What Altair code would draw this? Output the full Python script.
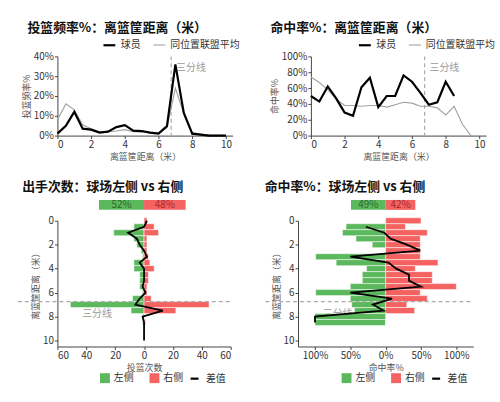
import altair as alt
import pandas as pd

FONT = "Noto Sans CJK SC"
GREEN = "#5cb85c"
RED = "#f46262"
GREEN_TEXT = "#2d6a2d"
RED_TEXT = "#a52a2a"
DASH_GREY = "#aaaaaa"
NOTE_GREY = "#999999"
THREE_PT = 6.75

SERIES = ["球员", "同位置联盟平均"]
SIDES = ["左侧", "右侧"]

# ---- shot frequency (%) by distance from the rim (m) ----
freq_dist = [0, 0.5, 1, 1.5, 2, 2.5, 3, 3.5, 4, 4.5, 5, 5.5, 6, 6.5, 7, 7.5, 8, 8.5, 9, 9.5, 10]
player_freq = [1, 5, 12, 3.5, 3, 1.5, 2, 4.3, 5.3, 2.5, 2.3, 1.5, 1, 4.8, 36, 11.5, 1, 0.5, 0, 0, 0]
league_freq = [8, 16, 13, 5.5, 3.5, 2, 2, 2.3, 3, 2, 1.8, 1.5, 1.2, 4, 24, 11, 1.5, 0.7, 0.3, 0.2, 0.1]

# ---- field goal % by distance ----
fg_dist_player = [0, 0.5, 1, 1.5, 2, 2.5, 3, 3.5, 4, 4.5, 5, 5.5, 6, 6.5, 7, 7.5, 8, 8.5]
player_fg = [50, 43, 62, 47, 29, 25, 61, 73, 36, 50, 50, 76, 68, 54, 39, 42, 68, 50]
fg_dist_league = [0, 0.5, 1, 1.5, 2, 2.5, 3, 3.5, 4, 4.5, 5, 5.5, 6, 6.5, 7, 7.5, 8, 8.5, 9, 9.5]
league_fg = [74, 67, 58, 46, 38, 38, 37, 38, 38, 36, 39, 42, 41, 37, 37, 35, 26, 37, 14, 0]

# ---- attempts, left vs right side of the court ----
count_dist = [0, 0.5, 1, 1.5, 2, 2.5, 3, 3.5, 4, 4.5, 5, 5.5, 6, 6.5, 7, 7.5, 8, 8.5, 9, 9.5, 10]
left_shots = [0, 7, 21, 7, 5, 2, 1, 7, 7, 3, 3, 3, 1, 8, 51, 9, 1, 1, 0, 0, 0]
right_shots = [2, 7, 10, 2, 2, 2, 3, 4, 7, 3, 3, 2, 2, 5, 45, 22, 0, 1, 0, 0, 0]
shot_share = [52, 48]

# ---- FG %, left vs right side ----
rate_dist = [0, 0.5, 1, 1.5, 2, 2.5, 3, 3.5, 4, 4.5, 5, 5.5, 6, 6.5, 7, 7.5, 8, 8.5]
left_rate = [None, 56, 61, 42, 19, 0, 99, 70, 27, 33, 33, 50, 99, 50, 48, 44, 100, 100]
right_rate = [50, 28, 59, 49, 49, 49, 49, 74, 42, 66, 66, 100, 49, 59, 30, 41, None, 0]
rate_share = [49, 42]


def by_distance_panel(d_player, v_player, d_league, v_league, ymax, ystep,
                      ytitle, title, legend_x, title_dx):
    df = pd.DataFrame({
        "d": d_player + d_league,
        "v": v_player + v_league,
        "series": [SERIES[0]] * len(d_player) + [SERIES[1]] * len(d_league),
    })
    x = alt.X("d:Q", title="离篮筐距离（米）",
              scale=alt.Scale(domain=[0, 10.4], nice=False),
              axis=alt.Axis(values=[0, 2, 4, 6, 8, 10]))
    y = alt.Y("v:Q", title=ytitle,
              scale=alt.Scale(domain=[0, ymax], nice=False),
              axis=alt.Axis(values=list(range(0, ymax + 1, ystep)),
                            labelExpr="datum.value + '%'"))
    legend = alt.Legend(orient="none", legendX=legend_x, legendY=-19,
                        direction="horizontal", title=None,
                        symbolType="stroke", symbolSize=144,
                        columnPadding=10, labelOffset=4)
    color = alt.Color("series:N", legend=legend,
                      scale=alt.Scale(domain=SERIES, range=["#000000", "#a0a0a0"]))
    stroke_w = alt.StrokeWidth("series:N", legend=legend,
                               scale=alt.Scale(domain=SERIES, range=[2.2, 1.1]))
    three = pd.DataFrame({"d": [THREE_PT]})
    rule = alt.Chart(three).mark_rule(
        strokeDash=[4, 3], color=DASH_GREY, strokeWidth=1.2
    ).encode(x=x)
    note = alt.Chart(three).mark_text(
        text="三分线", align="left", baseline="middle", dx=5,
        fontSize=10, color=NOTE_GREY
    ).encode(x=x, y=alt.value(12))
    league = alt.Chart(df).transform_filter(
        alt.datum.series == SERIES[1]
    ).mark_line().encode(x=x, y=y, color=color, strokeWidth=stroke_w)
    player = alt.Chart(df).transform_filter(
        alt.datum.series == SERIES[0]
    ).mark_line().encode(x=x, y=y, color=color, strokeWidth=stroke_w)
    return alt.layer(rule, note, league, player).properties(
        width=177, height=80, title=alt.Title(title, offset=3, dx=title_dx))


def side_panel(dist, left, right, diff, x_dom, x_ticks, label_expr, x_title,
               share, share_dom, title, width, rule_start, legend_x, title_dx):
    rows = []
    for d, l, r in zip(dist, left, right):
        if l is not None:
            rows.append({"d": d, "side": SIDES[0], "val": -l})
        if r is not None:
            rows.append({"d": d, "side": SIDES[1], "val": r})
    bars_df = pd.DataFrame(rows)
    diff_df = pd.DataFrame({"d": [p[0] for p in diff], "val": [p[1] for p in diff],
                            "kind": ["差值"] * len(diff)})
    share_df = pd.DataFrame({"side": SIDES, "pct": share})

    x = alt.X("val:Q", title=x_title,
              scale=alt.Scale(domain=x_dom, nice=False),
              axis=alt.Axis(values=x_ticks, labelExpr=label_expr, orient="bottom"))
    y_scale = alt.Scale(domain=[0, 10.5], reverse=True, nice=False)
    y_axis = alt.Axis(values=[0, 2, 4, 6, 8, 10])
    y_title = "离篮筐距离（米）"
    fill_legend = alt.Legend(orient="none", legendX=legend_x, legendY=154,
                             direction="horizontal", title=None,
                             symbolType="square", symbolSize=100,
                             symbolStrokeWidth=0, columnPadding=16, labelOffset=4)
    fill = alt.Fill("side:N", legend=fill_legend,
                    scale=alt.Scale(domain=SIDES, range=[GREEN, RED]))

    three = pd.DataFrame({"d": [THREE_PT]})
    note = alt.Chart(three).mark_text(
        text="三分线", align="left", baseline="middle", dy=13,
        fontSize=10, color=NOTE_GREY
    ).encode(x=alt.value(25),
             y=alt.Y("d:Q", title=y_title, scale=y_scale, axis=y_axis))
    bars = alt.Chart(bars_df).transform_calculate(
        top="datum.d - 0.25", bottom="datum.d + 0.25"
    ).mark_bar(stroke="white", strokeWidth=0.5).encode(
        x=x, x2=alt.datum(0),
        y=alt.Y("top:Q", title=y_title, scale=y_scale, axis=y_axis),
        y2="bottom:Q",
        fill=fill,
    )
    rule = alt.Chart(three).mark_rule(
        strokeDash=[4, 3], color=DASH_GREY, strokeWidth=1.2
    ).encode(x=alt.value(rule_start), x2=alt.value(width),
             y=alt.Y("d:Q", title=y_title, scale=y_scale, axis=y_axis))
    line = alt.Chart(diff_df).mark_line(strokeWidth=1.8).encode(
        x=x,
        y=alt.Y("d:Q", title=y_title, scale=y_scale, axis=y_axis),
        order="d:Q",
        stroke=alt.Stroke("kind:N",
                          scale=alt.Scale(domain=["差值"], range=["#000000"]),
                          legend=alt.Legend(orient="none", legendX=legend_x + 90,
                                            legendY=154, title=None,
                                            symbolType="stroke", symbolSize=64,
                                            symbolStrokeWidth=2.2, labelOffset=6)),
    )
    main = alt.layer(note, bars, rule, line)

    share_scale = alt.Scale(domain=share_dom, nice=False)
    share_base = alt.Chart(share_df).transform_calculate(
        sval=f"datum.side == '{SIDES[0]}' ? -datum.pct : datum.pct",
        mid=f"(datum.side == '{SIDES[0]}' ? -datum.pct : datum.pct) / 2",
        label="datum.pct + '%'",
    )
    share_bar = share_base.mark_bar().encode(
        x=alt.X("sval:Q", scale=share_scale, axis=None), x2=alt.datum(0),
        y=alt.value(-21), y2=alt.value(-11), fill=fill)
    share_text = share_base.mark_text(fontSize=10, baseline="middle").encode(
        x=alt.X("mid:Q", scale=share_scale, axis=None),
        y=alt.value(-15.5),
        text="label:N",
        color=alt.condition(f"datum.side == '{SIDES[0]}'",
                            alt.value(GREEN_TEXT), alt.value(RED_TEXT)),
    )
    summary = alt.layer(share_bar, share_text)
    return alt.layer(summary, main).resolve_scale(x="independent").properties(
        width=width, height=127, title=alt.Title(title, offset=6, dx=title_dx))


count_diff = [(d, r - l) for d, l, r in zip(count_dist, left_shots, right_shots)]
rate_diff = [(d, (r or 0) - l) for d, l, r in zip(rate_dist, left_rate, right_rate)
             if l is not None]

tl = by_distance_panel(freq_dist, player_freq, freq_dist, league_freq, 40, 10,
                       "投篮频率%", "投篮频率%：离篮筐距离（米）", 45, 5)
tr = by_distance_panel(fg_dist_player, player_fg, fg_dist_league, league_fg, 100, 20,
                       "命中率%", "命中率%：离篮筐距离（米）", 47, 0)
bl = side_panel(count_dist, left_shots, right_shots, count_diff, [-60, 60],
                [-60, -40, -20, 0, 20, 40, 60], "abs(datum.value)", "投篮次数",
                shot_share, [-100, 100], "出手次数：球场左侧 vs 右侧", 175, -40, 43, 5)
br = side_panel(rate_dist, left_rate, right_rate, rate_diff, [-124, 124],
                [-100, -50, 0, 50, 100], "abs(datum.value) + '%'", "命中率%",
                rate_share, [-124, 124], "命中率%：球场左侧 vs 右侧", 177, -33, 44, 0)

top_row = alt.hconcat(tl, tr, spacing=31).resolve_scale(
    color="independent", strokeWidth="independent")
bottom_row = alt.hconcat(bl, br, spacing=33).resolve_scale(
    fill="independent", stroke="independent")

chart = alt.vconcat(top_row, bottom_row, spacing=20).properties(
    padding={"left": 17, "top": 20, "right": 5, "bottom": 5},
    background="white",
).configure(
    font=FONT,
).configure_axis(
    labelFont=FONT, titleFont=FONT, labelFontSize=10, labelColor="#333333",
    titleFontSize=9, titleColor="#555555", titleFontWeight="normal",
    domainColor="#444444", tickColor="#444444", grid=False,
    labelPadding=1, tickSize=3,
).configure_axisX(
    titlePadding=3,
).configure_axisY(
    titlePadding=2,
).configure_legend(
    labelFont=FONT, labelFontSize=10, labelColor="#333333",
).configure_title(
    font=FONT, fontSize=13, fontWeight="bold", color="#111111", anchor="start",
).configure_view(stroke=None)

chart.save("out.html", embed_options={"renderer": "svg", "actions": False})
